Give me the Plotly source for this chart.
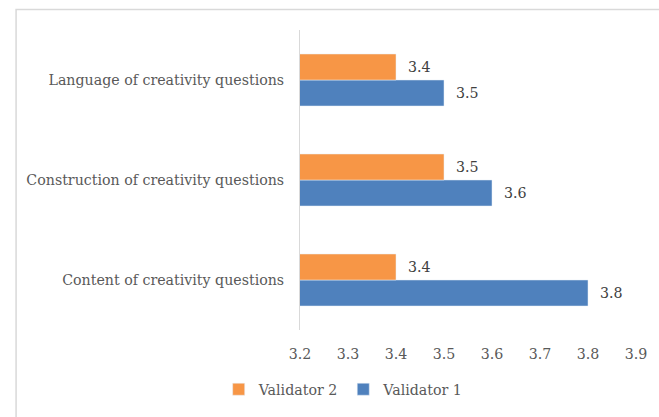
import plotly.graph_objects as go

categories = ["Content of creativity questions",
              "Construction of creativity questions",
              "Language of creativity questions"]
validator1 = [3.8, 3.6, 3.5]
validator2 = [3.4, 3.5, 3.4]
x_ticks = [3.2, 3.3, 3.4, 3.5, 3.6, 3.7, 3.8, 3.9]

FONT = "'DejaVu Serif', serif"
FS = 14.2
GRAY = "#595959"

fig = go.Figure()
fig.add_trace(go.Bar(
    y=categories, x=validator1, orientation="h", name="Validator 1",
    marker=dict(color="#4F81BD"),
    text=[f"\u00a0\u00a0{v}" for v in validator1], textposition="outside",
    textfont=dict(family=FONT, size=FS, color="#404040"), cliponaxis=False,
))
fig.add_trace(go.Bar(
    y=categories, x=validator2, orientation="h", name="Validator 2",
    marker=dict(color="#F79646"),
    text=[f"\u00a0\u00a0{v}" for v in validator2], textposition="outside",
    textfont=dict(family=FONT, size=FS, color="#404040"), cliponaxis=False,
))

fig.update_layout(
    width=659, height=417,
    margin=dict(l=300, r=15, t=30, b=85),
    paper_bgcolor="white", plot_bgcolor="white",
    barmode="group", bargap=0.48, bargroupgap=0,
    font=dict(family=FONT, size=FS, color=GRAY),
    showlegend=True,
    legend=dict(orientation="h", x=0.13, xanchor="center",
                y=-0.145, yanchor="top", traceorder="reversed",
                font=dict(family=FONT, size=FS, color=GRAY)),
    shapes=[dict(type="rect", xref="paper", yref="paper",
                 x0=-0.845, x1=1.1, y0=-0.4, y1=1.068,
                 line=dict(color="#d9d9d9", width=1.5), layer="below")],
)
fig.update_xaxes(range=[3.2, 3.9], tickvals=x_ticks,
                 ticktext=[f"{v:.1f}" for v in x_ticks],
                 showgrid=False, zeroline=False, showline=False,
                 ticks="", ticklabelstandoff=14,
                 tickfont=dict(family=FONT, size=FS, color=GRAY))
fig.update_yaxes(showgrid=False, zeroline=False, showline=True,
                 linecolor="#d9d9d9", linewidth=1, ticks="",
                 ticklabelstandoff=12,
                 tickfont=dict(family=FONT, size=FS, color=GRAY))

fig.write_html("out.html", config={"displayModeBar": False},
               post_script="document.body.style.margin='0';document.body.style.padding='0';")
